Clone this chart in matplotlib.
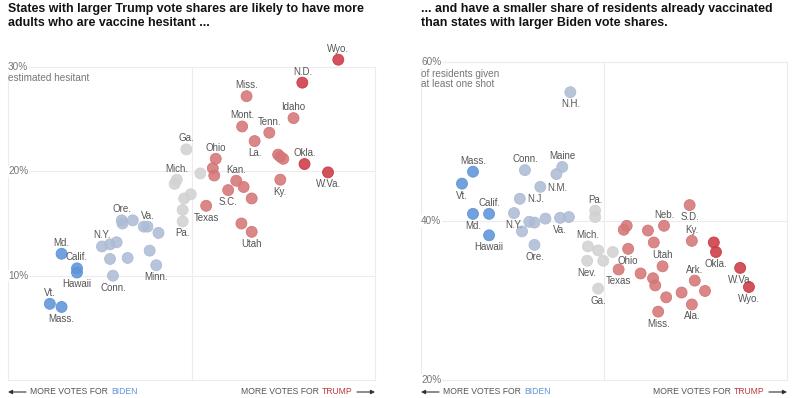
import matplotlib
matplotlib.use("Agg")
import matplotlib.pyplot as plt
from matplotlib.colors import to_rgba

plt.rcParams['font.family'] = ['Liberation Sans', 'DejaVu Sans']

# left chart: Trump vote share (%) vs estimated hesitant adults (%)
left_labels = ['Wyo.', 'N.D.', 'Miss.', 'Idaho', 'Mont.', 'Tenn.', 'La.', 'Ga.', '', '', '',
               'Okla.', 'Ohio', '', '', 'W.Va.', '', 'Mich.', '', '', '', '', 'Pa.',
               'Kan.', '', 'S.C.', '', 'Ky.', 'Texas', '', 'Utah',
               'Md.', 'Calif.', 'Hawaii', 'Vt.', 'Mass.',
               'Ore.', '', '', '', 'Va.', '', 'N.Y.', '', '', '', '', '', 'Minn.', 'Conn.']
left_trump = [70.0, 65.1, 57.5, 63.9, 56.9, 60.6, 58.6, 49.3, 61.8, 62.1, 62.5,
              65.4, 53.3, 52.9, 53.1, 68.6, 51.2, 48.0, 47.7, 49.9, 49.0, 48.8, 48.8,
              56.1, 57.1, 55.0, 58.2, 62.1, 52.0, 56.8, 58.2,
              32.3, 34.4, 34.4, 30.7, 32.3,
              40.5, 40.6, 42.0, 43.5, 44.0, 45.5, 37.8, 38.9, 39.8, 38.9, 41.3, 44.3, 45.2, 39.3]
left_hesitant = [30.7, 28.5, 27.2, 25.1, 24.3, 23.7, 22.9, 22.1, 21.6, 21.4, 21.2,
                 20.7, 21.2, 20.3, 19.6, 19.9, 19.8, 19.2, 18.8, 17.8, 17.4, 16.3, 15.2,
                 19.1, 18.5, 18.2, 17.4, 19.2, 16.7, 15.0, 14.2,
                 12.1, 10.7, 10.3, 7.3, 7.0,
                 15.3, 15.0, 15.3, 14.7, 14.7, 14.1, 12.8, 13.0, 13.2, 11.6, 11.7, 12.4, 11.0, 10.0]

# right chart: Trump vote share (%) vs residents with at least one shot (%)
right_labels = ['N.H.', 'Maine', '', 'Conn.', 'Mass.', 'Vt.', 'N.M.', 'N.J.', 'Md.', 'Calif.',
                'Hawaii', 'N.Y.', '', '', '', '', 'Ore.', 'Va.', '', 'Pa.', '',
                'Mich.', '', '', 'Nev.', '', 'Ga.', '', '', 'Ohio', 'Texas', '', '',
                'Neb.', '', 'S.D.', 'Ky.', 'Utah', '', '', '', 'Miss.', '', 'Ark.', '',
                'Ala.', '', 'Okla.', 'W.Va.', 'Wyo.']
right_trump = [45.4, 44.3, 43.5, 39.2, 32.1, 30.6, 41.3, 38.5, 32.1, 34.3,
               34.3, 37.7, 39.8, 40.5, 42.0, 38.8, 40.5, 44.0, 45.2, 48.8, 48.8,
               47.8, 49.2, 51.2, 47.7, 49.9, 49.2, 53.1, 52.7, 53.3, 52.0, 55.0, 56.0,
               58.2, 56.8, 61.7, 62.0, 58.0, 56.7, 57.0, 58.5, 57.4, 60.6, 62.4, 63.8,
               62.0, 65.0, 65.3, 68.6, 69.8]
right_vaccinated = [56.2, 46.8, 45.9, 46.4, 46.2, 44.7, 44.3, 42.8, 40.9, 40.9,
                    38.2, 41.0, 39.9, 39.8, 40.3, 38.7, 37.0, 40.4, 40.5, 41.3, 40.5,
                    36.8, 36.3, 36.1, 35.0, 35.0, 31.5, 39.4, 38.9, 36.5, 33.9, 33.4, 38.8,
                    39.4, 37.3, 42.0, 37.5, 34.3, 32.8, 31.9, 30.4, 28.6, 31.0, 32.5, 31.2,
                    29.5, 37.3, 36.1, 34.1, 31.7]

# where each label sits relative to its dot: a = above, b = below, r = right
left_place = {'La.': 'b', 'W.Va.': 'b', 'Pa.': 'b', 'S.C.': 'b', 'Ky.': 'b', 'Texas': 'b',
              'Utah': 'b', 'Hawaii': 'b', 'Mass.': 'b', 'Minn.': 'b', 'Conn.': 'b'}
right_place = {'Maine': 'a', 'Conn.': 'a', 'Mass.': 'a', 'Calif.': 'a', 'Pa.': 'a',
               'Mich.': 'a', 'Neb.': 'a', 'Ky.': 'a', 'Utah': 'a', 'Ark.': 'a',
               'N.M.': 'r', 'N.J.': 'r'}

BLUE = '#5f95d9'
LBLUE = '#aebcd5'
GRAY = '#d2d2d2'
LRED = '#d57677'
RED = '#cd3a44'
GRID = '#ececec'


def dot_color(share):
    if share < 35.5:
        return BLUE
    if share < 46.5:
        return LBLUE
    if share < 51.5:
        return GRAY
    if share < 64.9:
        return LRED
    return RED


def draw_panel(ax, xs, ys, labels, place, default, yticks, ylim):
    ax.set_xlim(25, 75)
    ax.set_ylim(*ylim)
    for t in yticks:
        ax.axhline(t, color=GRID, lw=0.8, zorder=0)
    ax.axvline(50, color=GRID, lw=0.8, zorder=0)
    for s in ax.spines.values():
        s.set_color(GRID)
        s.set_linewidth(0.8)
    ax.set_xticks([])
    ax.set_yticks([])
    cols = [dot_color(v) for v in xs]
    ax.scatter(xs, ys, s=62, c=[to_rgba(c, 0.88) for c in cols],
               edgecolors=cols, linewidths=0.6, zorder=3, clip_on=False)
    for x, y, lab in zip(xs, ys, labels):
        if not lab:
            continue
        where = place.get(lab, default)
        if where == 'a':
            off, ha = (0, 8), 'center'
        elif where == 'b':
            off, ha = (0, -8.6), 'center'
        else:
            off, ha = (5, -0.5), 'left'
        ax.annotate(lab, (x, y), xytext=off, textcoords='offset points',
                    ha=ha, va='center', fontsize=7, color='#555555', zorder=4,
                    annotation_clip=False)


fig = plt.figure(figsize=(8, 3.98), dpi=100)
W, H = 800, 398

ax1 = fig.add_axes([8 / W, (H - 380) / H, 367 / W, 313 / H])
ax2 = fig.add_axes([421 / W, (H - 380) / H, 366 / W, 318 / H])

draw_panel(ax1, left_trump, left_hesitant, left_labels, left_place, 'a', [10, 20, 30], (0, 30))
draw_panel(ax2, right_trump, right_vaccinated, right_labels, right_place, 'b', [20, 40, 60], (20, 60))

tick_style = dict(fontsize=7.2, color='#777777', ha='left', va='center', zorder=5,
                  bbox=dict(facecolor='white', edgecolor='none', pad=0.6))
for t in [10, 20, 30]:
    ax1.text(25, t, f'{t}%', **tick_style)
ax1.text(25, 28.9, 'estimated hesitant', fontsize=7.2, color='#777777', ha='left', va='center')
for t in [20, 40, 60]:
    ax2.text(25, t, f'{t}%', **tick_style)
ax2.text(25, 59.1, 'of residents given\nat least one shot', fontsize=7.2, color='#777777',
         ha='left', va='top', linespacing=1.0)

title_style = dict(fontsize=8.9, fontweight='bold', color='#121212', ha='left', va='top',
                   linespacing=1.2)
fig.text(8 / W, 1 - 3 / H, 'States with larger Trump vote shares are likely to have more\n'
         'adults who are vaccine hesitant ...', **title_style)
fig.text(421 / W, 1 - 3 / H, '... and have a smaller share of residents already vaccinated\n'
         'than states with larger Biden vote shares.', **title_style)

# bottom direction notes
fig.canvas.draw()
foot = dict(fontsize=6.2, color='#555555', va='center')
yb = H - 392
arrow = dict(arrowstyle='-|>', lw=0.8, color='#333333', mutation_scale=6,
             shrinkA=0, shrinkB=0)
for x0, x1 in [(8, 375), (421, 787)]:
    ax1.annotate('', xy=(x0, yb), xytext=(x0 + 18, yb), xycoords='figure pixels',
                 arrowprops=arrow, annotation_clip=False)
    t = fig.text((x0 + 22) / W, yb / H, 'MORE VOTES FOR', **foot)
    bb = t.get_window_extent()
    fig.text((bb.x1 + 3) / W, yb / H, 'BIDEN', fontsize=6.2, color=BLUE, va='center')

    ax1.annotate('', xy=(x1, yb), xytext=(x1 - 18, yb), xycoords='figure pixels',
                 arrowprops=arrow, annotation_clip=False)
    t2 = fig.text((x1 - 22) / W, yb / H, 'TRUMP', fontsize=6.2, color='#c0393f', va='center', ha='right')
    bb2 = t2.get_window_extent()
    fig.text((bb2.x0 - 3) / W, yb / H, 'MORE VOTES FOR', ha='right', **foot)

fig.savefig('out.png', dpi=100)
